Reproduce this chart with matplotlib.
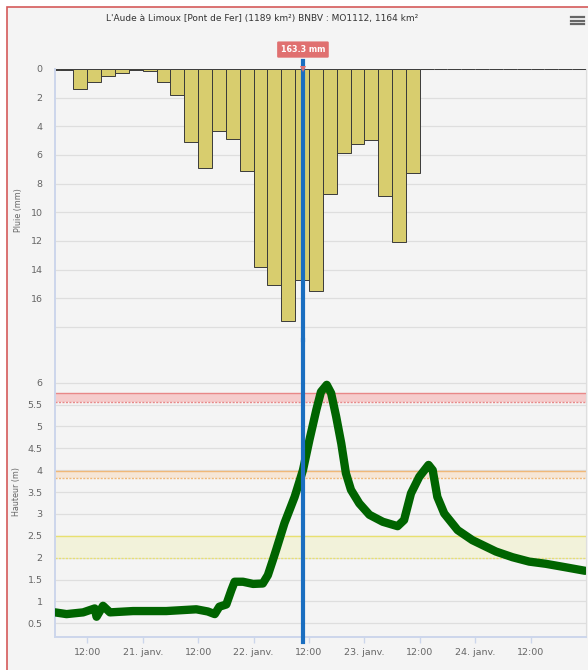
import matplotlib
matplotlib.use('Agg')
import matplotlib.pyplot as plt
from matplotlib.lines import Line2D
from matplotlib.patches import Rectangle

# hours counted from 20 janv. 00:00
rain_start = [3, 6, 9, 12, 15, 18, 21, 24, 27, 30, 33, 36, 39, 42, 45, 48, 51, 54,
              57, 60, 63, 66, 69, 72, 75, 78, 81, 84, 87, 90, 93, 96, 99, 102,
              105, 108, 111, 114, 117]
rain_mm = [0.1, 0.1, 1.4, 0.9, 0.5, 0.25, 0.05, 0.15, 0.9, 1.8, 5.1, 6.9, 4.3, 4.9,
           7.1, 13.8, 15.1, 17.6, 14.7, 15.5, 8.7, 5.85, 5.25, 4.95, 8.85, 12.1,
           7.25, 0, 0, 0, 0, 0, 0, 0, 0, 0, 0, 0, 0]

level_hour = [5.0, 7.5, 11.1, 13.6, 14.0, 15.4, 16.9, 21.9, 29.1, 35.6, 38.1, 39.6,
              40.6, 42.1, 43.2, 43.9, 45.7, 47.9, 50.0, 51.1, 52.2, 52.9, 54.7,
              56.9, 58.7, 60.1, 61.6, 62.6, 63.85, 64.8, 65.9, 67.0, 68.0, 69.1,
              70.9, 73.1, 76.0, 79.2, 80.6, 82.1, 83.9, 85.9, 86.8, 87.8, 89.3,
              92.2, 95.4, 100.5, 104.1, 107.7, 111.3, 115.6, 119.8]
level_m = [0.75, 0.71, 0.75, 0.84, 0.65, 0.9, 0.75, 0.78, 0.78, 0.82, 0.77, 0.71,
           0.88, 0.93, 1.26, 1.45, 1.45, 1.40, 1.41, 1.6, 1.95, 2.18, 2.79,
           3.39, 4.00, 4.69, 5.38, 5.79, 5.95, 5.76, 5.22, 4.61, 3.93, 3.55,
           3.24, 2.98, 2.82, 2.72, 2.86, 3.47, 3.85, 4.12, 4.0, 3.39, 3.01,
           2.63, 2.40, 2.14, 2.01, 1.91, 1.86, 1.78, 1.70]

# alert bands (low, high) in metres
bands = [(1.99, 2.50), (3.81, 3.99), (5.55, 5.76)]
band_fill = ['#f2f2da', '#f6e6d6', '#f5cccc']
band_line = ['#e8e070', '#f0b878', '#e88888']

x_ticks = [12, 24, 36, 48, 60, 72, 84, 96, 108]
x_labels = ['12:00', '21. janv.', '12:00', '22. janv.', '12:00', '23. janv.',
            '12:00', '24. janv.', '12:00']
rain_ticks = [0, 2, 4, 6, 8, 10, 12, 14, 16, 18]
level_ticks = [0.5, 1, 1.5, 2, 2.5, 3, 3.5, 4, 4.5, 5, 5.5, 6]

cursor_hour = 58.7
cursor_label = '163.3 mm'
title = "L'Aude à Limoux [Pont de Fer] (1189 km²) BNBV : MO1112, 1164 km²"

W, H = 588, 670
BG = '#f4f4f4'
GRID = '#dedede'
AXIS = '#ccd6eb'
TXT = '#666666'


def box(left, top, right, bottom):
    # pixel box -> figure fraction
    return [left / W, (H - bottom) / H, (right - left) / W, (bottom - top) / H]


fig = plt.figure(figsize=(W / 100, H / 100), dpi=100, facecolor='white')
fig.patches.append(Rectangle((7 / W, -0.1), 1.2, (H - 7) / H + 0.1,
                             transform=fig.transFigure, facecolor=BG,
                             edgecolor='#d45a5a', linewidth=1.2, zorder=-10))

fig.text(262 / W, 1 - 18 / H, title, ha='center', va='center', fontsize=6.5,
         color='#333333')
for yy in (17, 20.5, 24):
    fig.lines.append(Line2D([571 / W, 584 / W], [1 - yy / H, 1 - yy / H],
                            transform=fig.transFigure, color='#666666', lw=1.6))

# rain panel
ax1 = fig.add_axes(box(55, 69, 586, 340))
ax1.set_facecolor('none')
ax1.bar(rain_start, rain_mm, width=3, align='edge', color='#d8cd6e',
        edgecolor='#3a3a3a', linewidth=0.7, zorder=2)
ax1.set_xlim(5, 120)
ax1.set_ylim((340 - 69) / 14.33, 0)
ax1.set_yticks(rain_ticks)
ax1.set_yticklabels([str(v) if v < 18 else '' for v in rain_ticks])
ax1.set_xticks([])
ax1.grid(axis='y', color=GRID, linewidth=0.9, zorder=0)
ax1.set_axisbelow(True)
ax1.tick_params(axis='y', length=0, labelsize=6.8, labelcolor=TXT, pad=9)
for s in ('top', 'bottom'):
    ax1.spines[s].set_visible(False)
ax1.spines['left'].set_color(AXIS)
ax1.spines['left'].set_linewidth(1.4)
ax1.spines['right'].set_color(GRID)
ax1.spines['right'].set_linewidth(0.8)

# water level panel
ax2 = fig.add_axes(box(55, 340, 586, 637))
ax2.set_facecolor('none')
for (lo, hi), fc, lc in zip(bands, band_fill, band_line):
    ax2.axhspan(lo, hi, facecolor=fc, edgecolor='none', zorder=1)
    ax2.axhline(hi, color=lc, linewidth=1.0, zorder=1.5)
    ax2.axhline(lo, color=lc, linewidth=1.0, linestyle=(0, (1.5, 1)), zorder=1.5)
ax2.plot(level_hour, level_m, color='#006400', linewidth=6,
         solid_capstyle='round', solid_joinstyle='round', zorder=3)
ax2.set_xlim(5, 120)
ax2.set_ylim(0.187, 6.975)
ax2.set_yticks(level_ticks)
ax2.set_yticklabels(['%g' % v for v in level_ticks])
ax2.set_xticks(x_ticks)
ax2.set_xticklabels(x_labels)
ax2.grid(axis='y', color=GRID, linewidth=0.9, zorder=0)
ax2.set_axisbelow(True)
ax2.tick_params(axis='y', length=0, labelsize=6.8, labelcolor=TXT, pad=9)
ax2.tick_params(axis='x', length=4, width=1, color=AXIS, labelsize=6.8,
                labelcolor=TXT, pad=4)
ax2.spines['top'].set_visible(False)
for s in ('left', 'bottom'):
    ax2.spines[s].set_color(AXIS)
    ax2.spines[s].set_linewidth(1.4)
ax2.spines['right'].set_color(GRID)
ax2.spines['right'].set_linewidth(0.8)

# cursor line across both panels
ax1.axvline(cursor_hour, ymin=0, ymax=1.03, color='#1a6ec0', linewidth=3,
            clip_on=False, zorder=5)
ax2.axvline(cursor_hour, ymin=-0.017, ymax=1, color='#1a6ec0', linewidth=3,
            clip_on=False, zorder=5)
ax1.plot([cursor_hour], [0], marker='v', markersize=5, color='#e07070',
         transform=ax1.transData, clip_on=False, zorder=6,
         markeredgewidth=0)
ax1.annotate(cursor_label, xy=(cursor_hour, 0), xytext=(0, 14),
             textcoords='offset points', ha='center', va='center',
             fontsize=5.8, color='white', fontweight='bold',
             bbox=dict(boxstyle='round,pad=0.45,rounding_size=0.15',
                       facecolor='#e07070', edgecolor='none'),
             annotation_clip=False, zorder=7)

fig.text(18 / W, 1 - 210 / H, 'Pluie (mm)', rotation=90, ha='center',
         va='center', fontsize=5.8, color=TXT)
fig.text(17 / W, 1 - 492 / H, 'Hauteur (m)', rotation=90, ha='center',
         va='center', fontsize=5.8, color=TXT)

fig.savefig('out.png', dpi=100, facecolor=fig.get_facecolor())
